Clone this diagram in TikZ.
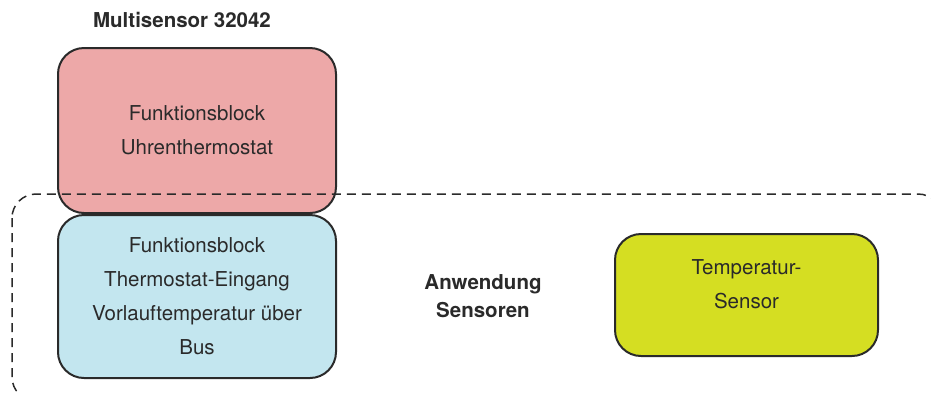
\documentclass[tikz,border=0pt]{standalone}
\usepackage{fontspec}
\setmainfont{TeX Gyre Heros}
\usepackage{tikz}
\definecolor{boxred}{HTML}{EDA8A8}
\definecolor{boxblue}{HTML}{C3E6EF}
\definecolor{boxyellow}{HTML}{D5DE22}
\definecolor{ink}{HTML}{2A2A2A}
\tikzset{
  fblock/.style={draw=ink, line width=2pt, rounded corners=26pt, align=center,
    text=ink, font=\fontsize{20.5}{34}\selectfont},
  tag/.style={align=center, text=ink, font=\fontsize{20.5}{28}\selectfont\bfseries},
  zone/.style={draw=ink, line width=1.5pt, dash pattern=on 9pt off 6pt, rounded corners=24pt}
}
\begin{document}
\begin{tikzpicture}[x=1pt,y=-1pt]
\useasboundingbox (0,0) rectangle (931,392);
\node[tag] (title) at (182,20) {Multisensor 32042};
\node[fblock, fill=boxred, minimum width=278pt, minimum height=165pt] (uhr) at (197,130.5)
  {Funktionsblock\\Uhrenthermostat};
\node[fblock, fill=boxblue, minimum width=278pt, minimum height=163pt] (eingang) at (197,296.5)
  {Funktionsblock\\Thermostat-Eingang\\Vorlauftemperatur über\\Bus};
\node[fblock, fill=boxyellow, minimum width=263pt, minimum height=122pt] (sensor) at (746.5,295)
  {Temperatur-\\Sensor\\[-12pt]};
\node[tag] (anw) at (483,296) {Anwendung\\Sensoren};
% dashed zone, runs off the right and bottom edge
\begin{scope}
\clip (0,0) rectangle (931,392);
\draw[zone] (12,194) rectangle (942,401);
\end{scope}
\end{tikzpicture}
\end{document}
